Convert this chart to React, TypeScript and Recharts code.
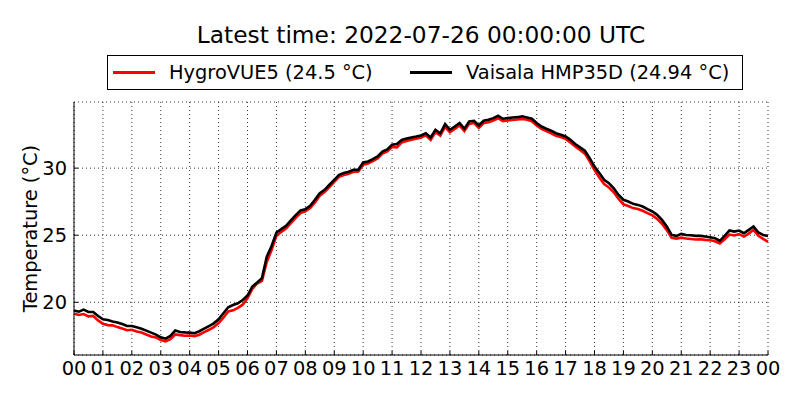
import { CartesianGrid, Line, LineChart, XAxis, YAxis } from "recharts";

const title = "Latest time: 2022-07-26 00:00:00 UTC";
const yLabel = "Temperature (°C)";

// one reading every 10 minutes, 00:00 .. 24:00 (one row per hour)
const stepHours = 1 / 6;

const vaisala = [
  19.38, 19.3, 19.45, 19.28, 19.28, 18.98,
  18.73, 18.68, 18.56, 18.5, 18.38, 18.23,
  18.23, 18.13, 18.03, 17.89, 17.74, 17.59,
  17.39, 17.29, 17.49, 17.89, 17.79, 17.76,
  17.74, 17.69, 17.84, 18.03, 18.23, 18.43,
  18.73, 19.18, 19.63, 19.8, 19.93, 20.17,
  20.5, 21.17, 21.47, 21.8, 23.4, 24.2,
  25.2, 25.45, 25.7, 26.1, 26.5, 26.84,
  26.94, 27.19, 27.64, 28.13, 28.38, 28.76,
  29.13, 29.5, 29.63, 29.73, 29.88, 29.88,
  30.42, 30.5, 30.67, 30.87, 31.24, 31.4,
  31.74, 31.8, 32.1, 32.2, 32.29, 32.36,
  32.44, 32.6, 32.29, 32.86, 32.6, 33.28,
  32.86, 33.1, 33.36, 32.94, 33.48, 33.53,
  33.18, 33.53, 33.6, 33.73, 33.9, 33.68,
  33.73, 33.78, 33.8, 33.86, 33.78, 33.68,
  33.36, 33.1, 32.94, 32.79, 32.6, 32.49,
  32.36, 32.11, 31.8, 31.55, 31.3, 30.75,
  30.12, 29.63, 29.13, 28.88, 28.5, 28.0,
  27.64, 27.51, 27.34, 27.26, 27.14, 26.94,
  26.77, 26.52, 26.14, 25.65, 25.02, 24.95,
  25.1, 25.02, 25.0, 24.95, 24.95, 24.9,
  24.85, 24.78, 24.58, 24.95, 25.35, 25.27,
  25.35, 25.15, 25.4, 25.65, 25.2, 25.02,
  24.94,
];

const hygro = [
  19.15, 19.05, 19.12, 18.95, 18.98, 18.65,
  18.4, 18.3, 18.28, 18.15, 18.05, 17.92,
  17.95, 17.82, 17.75, 17.6, 17.45, 17.38,
  17.18, 17.08, 17.25, 17.6, 17.55, 17.5,
  17.52, 17.48, 17.58, 17.78, 17.95, 18.15,
  18.45, 18.85, 19.32, 19.4, 19.58, 19.82,
  20.3, 21.0, 21.4, 21.6, 23.0, 23.9,
  24.95, 25.25, 25.5, 25.9, 26.3, 26.65,
  26.78, 27.02, 27.45, 27.95, 28.22, 28.58,
  28.98, 29.35, 29.48, 29.58, 29.72, 29.75,
  30.25, 30.35, 30.52, 30.72, 31.08, 31.25,
  31.58, 31.55, 31.92, 32.02, 32.12, 32.2,
  32.28, 32.45, 32.1, 32.68, 32.42, 33.08,
  32.68, 32.92, 33.18, 32.76, 33.3, 33.36,
  33.0, 33.36, 33.42, 33.55, 33.72, 33.5,
  33.55, 33.6, 33.62, 33.66, 33.6, 33.5,
  33.18, 32.92, 32.76, 32.6, 32.42, 32.32,
  32.18, 31.92, 31.62, 31.35, 31.08, 30.5,
  29.85, 29.3, 28.82, 28.55, 28.2, 27.7,
  27.3, 27.18, 27.02, 26.95, 26.82, 26.65,
  26.48, 26.22, 25.85, 25.38, 24.8, 24.75,
  24.82, 24.75, 24.72, 24.68, 24.7, 24.65,
  24.62, 24.55, 24.38, 24.7, 25.05, 24.98,
  25.08, 24.9, 25.12, 25.4, 24.95, 24.72,
  24.5,
];

const series = [
  { key: "hygro", name: "HygroVUE5 (24.5 °C)", color: "#ff0000" },
  { key: "vaisala", name: "Vaisala HMP35D (24.94 °C)", color: "#000000" },
];

const hourTicks = [0, 1, 2, 3, 4, 5, 6, 7, 8, 9, 10, 11, 12, 13, 14, 15, 16, 17, 18, 19, 20, 21, 22, 23, 24];
const tempTicks = [20, 25, 30];
const tempDomain = [16.07, 34.93];

const data = vaisala.map((v, i) => ({ h: i * stepHours, vaisala: v, hygro: hygro[i] }));

const font = "'DejaVu Sans', sans-serif";
const fontSize = 19.4;
const fmtHour = (h: number) => String(h % 24).padStart(2, "0");

const BottomTick = ({ x, y, payload }: any) => (
  <g>
    <line x1={x} x2={x} y1={y} y2={y - 4} stroke="#000" />
    <text x={x} y={y + 20} textAnchor="middle" fontSize={fontSize} fontFamily={font} fill="#000">
      {fmtHour(payload.value)}
    </text>
  </g>
);

const TopTick = ({ x, y }: any) => <line x1={x} x2={x} y1={y} y2={y + 4} stroke="#000" />;

const LeftTick = ({ x, y, payload }: any) => (
  <g>
    <line x1={x} x2={x + 4} y1={y} y2={y} stroke="#000" />
    <text x={x - 7} y={y + 7} textAnchor="end" fontSize={fontSize} fontFamily={font} fill="#000">
      {payload.value}
    </text>
  </g>
);

const RightTick = ({ x, y }: any) => <line x1={x} x2={x - 4} y1={y} y2={y} stroke="#000" />;

const AxisTitle = ({ viewBox }: any) => {
  const cy = viewBox.y + viewBox.height / 2;
  return (
    <text
      x={30}
      y={cy}
      transform={`rotate(-90, 30, ${cy})`}
      textAnchor="middle"
      dominantBaseline="central"
      fontSize={fontSize}
      fontFamily={font}
      fill="#000"
    >
      {yLabel}
    </text>
  );
};

export default function App() {
  return (
    <div style={{ position: "absolute", left: 0, top: 0, width: 800, height: 400, background: "#fff", fontFamily: font }}>
      <div
        style={{
          position: "absolute",
          left: 74,
          width: 694,
          top: 19,
          textAlign: "center",
          fontSize: 23.3,
          lineHeight: "32px",
          whiteSpace: "nowrap",
        }}
      >
        {title}
      </div>
      <div
        style={{
          position: "absolute",
          left: 107,
          top: 55,
          width: 636,
          height: 35,
          boxSizing: "border-box",
          border: "1px solid #000",
          fontSize,
        }}
      >
        {series.map((s, i) => (
          <div
            key={s.key}
            style={{
              position: "absolute",
              left: i === 0 ? 5 : 302,
              top: 0,
              height: 33,
              display: "flex",
              alignItems: "center",
              whiteSpace: "nowrap",
            }}
          >
            <span style={{ display: "inline-block", width: 42, height: 2.5, background: s.color, marginRight: 14 }} />
            <span>{s.name}</span>
          </div>
        ))}
      </div>
      <div style={{ position: "absolute", left: 0, top: 0 }}>
        <LineChart width={800} height={400} data={data} margin={{ top: 102, right: 32, bottom: 0, left: 0 }}>
          <CartesianGrid stroke="#000" strokeDasharray="1 3" strokeOpacity={0.8} />
          <XAxis
            dataKey="h"
            type="number"
            domain={[0, 24]}
            ticks={hourTicks}
            height={45}
            tickSize={0}
            tickMargin={0}
            tickLine={false}
            axisLine={{ stroke: "#000" }}
            tick={<BottomTick />}
            interval={0}
          />
          <XAxis
            xAxisId="top"
            orientation="top"
            dataKey="h"
            type="number"
            domain={[0, 24]}
            ticks={hourTicks}
            height={0}
            tickSize={0}
            tickMargin={0}
            tickLine={false}
            axisLine={{ stroke: "#000" }}
            tick={<TopTick />}
            interval={0}
          />
          <YAxis
            type="number"
            domain={tempDomain}
            ticks={tempTicks}
            width={74}
            tickSize={0}
            tickMargin={0}
            tickLine={false}
            axisLine={{ stroke: "#000" }}
            tick={<LeftTick />}
            interval={0}
            label={<AxisTitle />}
          />
          <YAxis
            yAxisId="right"
            orientation="right"
            type="number"
            domain={tempDomain}
            ticks={tempTicks}
            width={0}
            tickSize={0}
            tickMargin={0}
            tickLine={false}
            axisLine={{ stroke: "#000" }}
            tick={<RightTick />}
            interval={0}
          />
          {series.map((s) => (
            <Line
              key={s.key}
              dataKey={s.key}
              stroke={s.color}
              strokeWidth={2.6}
              dot={false}
              type="linear"
              isAnimationActive={false}
            />
          ))}
        </LineChart>
      </div>
    </div>
  );
}
